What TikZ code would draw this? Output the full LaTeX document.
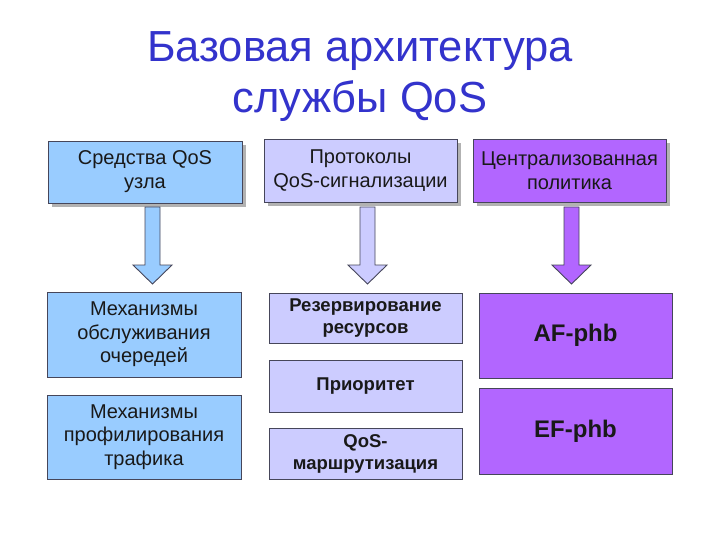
\documentclass[tikz,border=0pt]{standalone}
\usepackage{fontspec}
\setmainfont{Liberation Sans}
\definecolor{titleblue}{RGB}{51,51,204}
\definecolor{cblue}{RGB}{153,204,255}
\definecolor{clav}{RGB}{204,204,255}
\definecolor{cpurp}{RGB}{178,102,255}
\definecolor{edge}{RGB}{70,70,90}
\begin{document}
\begin{tikzpicture}[x=1pt,y=-1pt,
  box/.style={draw=edge, line width=0.9pt, rectangle, inner sep=0pt, align=center, text=black!90},
  topbox/.style={box, font=\fontsize{20}{24}\selectfont},
  shadowed/.style={preaction={fill=black!30, draw=none, transform canvas={xshift=4pt,yshift=-4pt}}},
  leftbox/.style={box, fill=cblue, font=\fontsize{20}{23.5}\selectfont},
  midbox/.style={box, fill=clav, font=\bfseries\fontsize{18.5}{22}\selectfont},
  rightbox/.style={box, fill=cpurp, font=\bfseries\fontsize{24}{28}\selectfont},
  blockarrow/.style={draw=edge, line width=0.9pt}]
\useasboundingbox (0,0) rectangle (720,540);
\fill[white] (0,0) rectangle (720,540);

\node[text=titleblue, font=\fontsize{43.5}{51}\selectfont, align=center] (title) at (360,77) {Базовая архитектура\\службы QoS};

\node[topbox, fill=cblue, shadowed, minimum width=194pt, minimum height=62pt] (t1) at (145,172) {Средства QoS\\узла};
\node[topbox, fill=clav, shadowed, minimum width=193pt, minimum height=63pt] (t2) at (360.5,171) {Протоколы\\QoS-сигнализации};
\node[topbox, fill=cpurp, shadowed, minimum width=193pt, minimum height=63pt] (t3) at (569.5,171) {Централизованная\\политика};

\node[leftbox, minimum width=194pt, minimum height=85pt] (l1) at (144,334.5) {Механизмы\\обслуживания\\очередей};
\node[leftbox, minimum width=194pt, minimum height=84pt] (l2) at (144,437) {Механизмы\\профилирования\\трафика};

\node[midbox, minimum width=193pt, minimum height=50pt] (m1) at (365.5,318) {Резервирование\\ресурсов};
\node[midbox, minimum width=193pt, minimum height=52pt] (m2) at (365.5,386) {Приоритет};
\node[midbox, minimum width=193pt, minimum height=51pt] (m3) at (365.5,453.5) {QoS-\\маршрутизация};

\node[rightbox, minimum width=193pt, minimum height=85pt] (r1) at (575.5,335.5) {AF-phb};
\node[rightbox, minimum width=193pt, minimum height=86pt] (r2) at (575.5,431) {EF-phb};

% block arrows
\foreach \cx/\col in {152.5/cblue, 367.5/clav, 571.5/cpurp}{
  \filldraw[blockarrow, fill=\col] (\cx-7.5,207) -- (\cx+7.5,207) -- (\cx+7.5,265) -- (\cx+19.5,265)
    -- (\cx,284) -- (\cx-19.5,265) -- (\cx-7.5,265) -- cycle;
}
\end{tikzpicture}
\end{document}
